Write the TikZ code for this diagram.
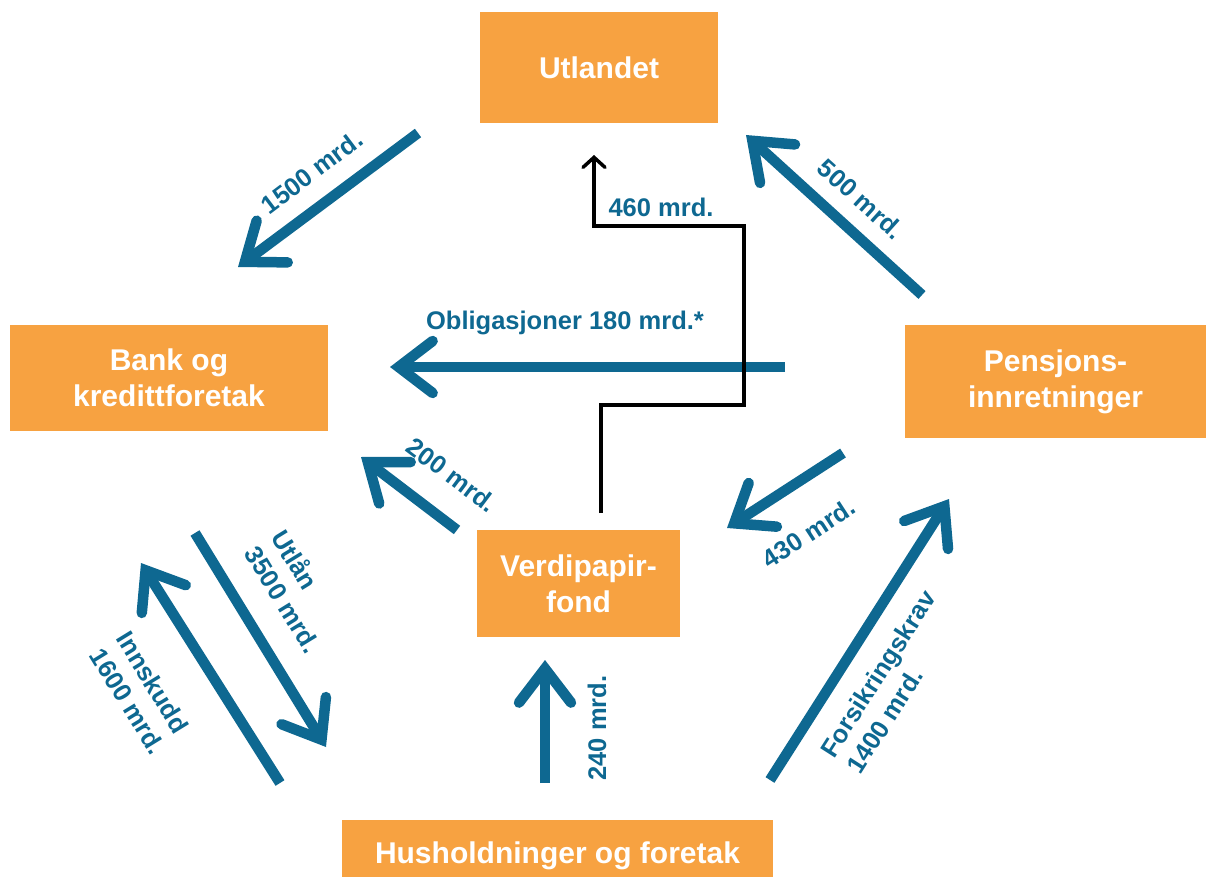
\documentclass[tikz,border=0pt]{standalone}
\usepackage{fontspec}
\setmainfont{Liberation Sans}
\usetikzlibrary{arrows.meta}
\definecolor{boxorange}{RGB}{247,162,65}
\definecolor{flowblue}{RGB}{14,104,145}
\tikzset{
  sector/.style={fill=boxorange, text=white, font=\bfseries\fontsize{30}{36}\selectfont, align=center, inner sep=0pt},
  flow/.style={draw=flowblue, line width=10.5pt, -{Straight Barb[length=34pt, width=52pt, line cap=round, line join=miter]}},
  flowlabel/.style={text=flowblue, font=\bfseries\fontsize{25.5}{31}\selectfont, inner sep=0pt},
}
\begin{document}
\begin{tikzpicture}[x=1pt,y=-1pt]
\path[use as bounding box, clip] (0,0) rectangle (1206,877);
% sectors
\node[sector, minimum width=238pt, minimum height=111pt] (utl) at (599,67.5) {Utlandet};
\node[sector, minimum width=318pt, minimum height=106pt] (bank) at (169,378) {Bank og\\kredittforetak};
\node[sector, minimum width=301pt, minimum height=113pt] (pens) at (1055.5,381.5) {Pensjons-\\innretninger};
\node[sector, minimum width=203pt, minimum height=107pt] (vpf) at (578.5,583.5) {Verdipapir-\\fond};
\node[sector, minimum width=431pt, minimum height=72pt] (hus) at (557.5,856) {Husholdninger og foretak};
% ends of the flows
\coordinate (a1) at (418,133); \coordinate (b1) at (238,267);
\coordinate (a2) at (922,295); \coordinate (b2) at (746,135);
\coordinate (a3) at (785,367); \coordinate (b3) at (390,367);
\coordinate (a4) at (457,530); \coordinate (b4) at (361,457);
\coordinate (a5) at (843,453); \coordinate (b5) at (727,528);
\coordinate (a6) at (195,533); \coordinate (b6) at (326,747);
\coordinate (a7) at (280,783); \coordinate (b7) at (141,563);
\coordinate (a8) at (545,783); \coordinate (b8) at (545,660);
\coordinate (a9) at (770,780); \coordinate (b9) at (949,499);
\coordinate (c0) at (601,513);
% flows
\draw[flow] (a1)--(b1);
\draw[flow] (a2)--(b2);
\draw[flow] (a3)--(b3);
\draw[flow] (a4)--(b4);
\draw[flow] (a5)--(b5);
\draw[flow] (a6)--(b6);
\draw[flow] (a7)--(b7);
\draw[flow] (a8)--(b8);
\draw[flow] (a9)--(b9);
\draw[line width=3.5pt, -{Straight Barb[length=10pt, width=22pt, line cap=round]}] (c0) |- (744,405) |- (594,226) -- (594,155);
% labels
\node[flowlabel, rotate=37] (l1) at (312,172) {1500 mrd.};
\node[flowlabel, rotate=-42] (l2) at (861,199) {500 mrd.};
\node[flowlabel] (l3) at (565,323) {Obligasjoner 180 mrd.*};
\node[flowlabel] (l0) at (661,207) {460 mrd.};
\node[flowlabel, rotate=-37] (l4) at (452,475) {200 mrd.};
\node[flowlabel, rotate=33] (l5) at (809,533) {430 mrd.};
\node[flowlabel, rotate=-58.5, align=left] (l6) at (297,591) {Utlån\\3500 mrd.};
\node[flowlabel, rotate=-58.5, align=left] (l7) at (141,693) {Innskudd\\1600 mrd.};
\node[flowlabel, rotate=90] (l8) at (597,728) {240 mrd.};
\node[flowlabel, rotate=57.4, align=left] (l9) at (891,682) {Forsikringskrav\\1400 mrd.};
\end{tikzpicture}
\end{document}
